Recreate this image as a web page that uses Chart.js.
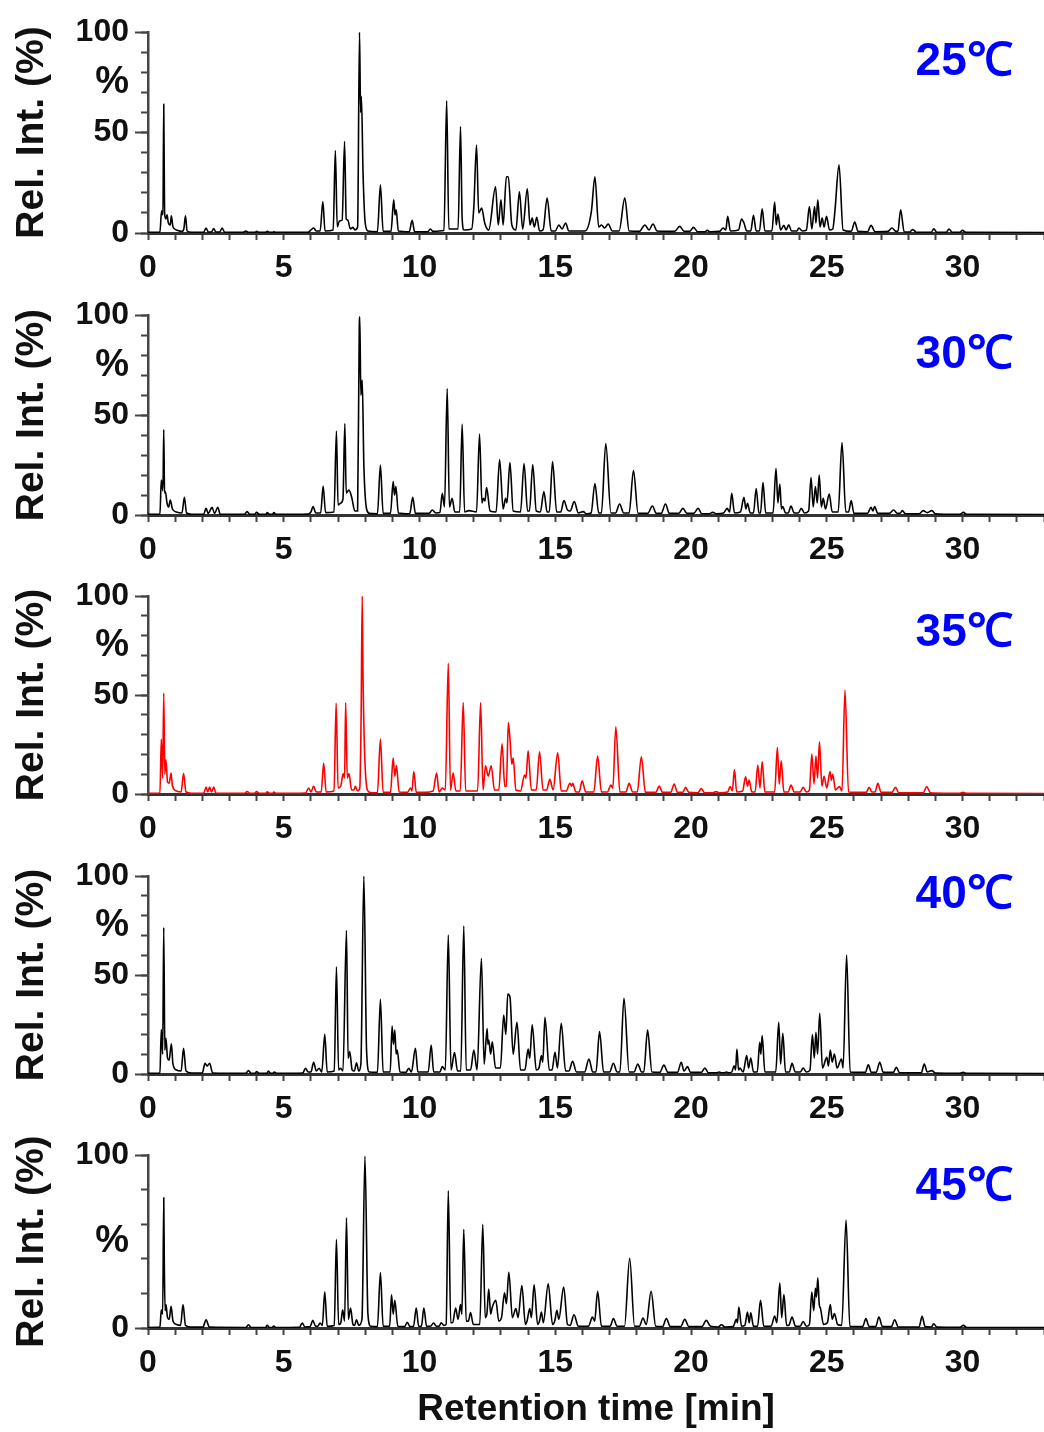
<!DOCTYPE html>
<html>
<head>
<meta charset="utf-8">
<script src="https://cdn.jsdelivr.net/npm/chart.js@4.4.1/dist/chart.umd.min.js"></script>
<style>
  body { margin: 0; background: #fff; }
  #wrap { position: relative; width: 1044px; height: 1432px; }
  #wrap canvas { position: absolute; left: 0; }
</style>
</head>
<body>
<div id="wrap">
  <canvas id="c0" width="1044" height="290" style="top:0px"></canvas>
  <canvas id="c1" width="1044" height="280" style="top:290px"></canvas>
  <canvas id="c2" width="1044" height="280" style="top:570px"></canvas>
  <canvas id="c3" width="1044" height="280" style="top:850px"></canvas>
  <canvas id="c4" width="1044" height="302" style="top:1130px"></canvas>
</div>
<script>
// chromatogram traces, [retention time (min), rel. intensity (%)]
const trace25 = [[0,0.3],[0.44,0.5],[0.5,11],[0.55,9],[0.58,64],[0.61,10],[0.66,7],[0.7,9],[0.75,5],[0.82,4],[0.86,8.6],[0.92,3],[1.05,1.5],[1.25,0.8],[1.32,2],[1.38,8.6],[1.44,1],[1.6,0.4],[2.05,0.4],[2.14,2.5],[2.22,0.5],[2.34,0.5],[2.42,2.2],[2.5,0.5],[2.64,0.5],[2.73,2.5],[2.82,0.4],[3.5,0.3],[3.6,1],[3.7,0.3],[3.95,0.3],[4.0,0.8],[4.1,0.3],[4.33,0.3],[4.39,0.8],[4.5,0.3],[4.58,0.3],[4.63,0.6],[4.7,0.3],[5.9,0.4],[6.0,1.5],[6.1,2.5],[6.2,1],[6.34,1],[6.44,15.7],[6.52,1],[6.82,1.5],[6.9,41],[6.97,3],[7.05,6],[7.15,6.5],[7.24,45.5],[7.3,7],[7.36,6.5],[7.45,2],[7.55,2.8],[7.62,1.5],[7.72,3],[7.79,100],[7.83,60],[7.86,68],[7.92,30],[8.0,5],[8.1,1],[8.45,0.6],[8.56,24],[8.66,0.8],[8.95,0.8],[9.05,16.5],[9.1,9],[9.14,11.6],[9.22,1],[9.62,0.6],[9.73,6.3],[9.82,0.6],[10.3,0.6],[10.4,2],[10.5,0.8],[10.9,1.2],[11.0,65.8],[11.08,2],[11.42,2],[11.51,53],[11.57,7.4],[11.64,1.5],[11.92,2],[12.0,13],[12.1,43.8],[12.18,10],[12.29,12.4],[12.4,5],[12.55,1.5],[12.8,23],[12.9,4],[13.0,16.5],[13.08,4],[13.2,28],[13.27,28],[13.4,4],[13.55,1.5],[13.68,20.5],[13.8,2],[13.97,22],[14.07,4],[14.15,7.4],[14.23,3],[14.32,7.8],[14.42,1],[14.55,1.5],[14.7,17.4],[14.85,1],[15.0,1],[15.13,4],[15.25,2],[15.38,5],[15.5,1],[15.9,1],[16.1,1],[16.33,10.7],[16.46,28],[16.6,3],[16.7,4],[16.82,2.5],[16.95,4.5],[17.1,1],[17.35,1],[17.56,17.4],[17.72,1],[18.1,0.8],[18.3,4],[18.45,1.5],[18.6,4.5],[18.75,1],[19.4,0.8],[19.58,3.3],[19.75,0.8],[19.95,0.8],[20.09,2.8],[20.25,0.6],[20.5,0.6],[20.6,1.3],[20.7,0.6],[21.05,0.8],[21.18,2.5],[21.28,1.5],[21.35,8.3],[21.45,1],[21.75,1.5],[21.86,7],[21.95,5],[22.05,1],[22.2,1],[22.3,8.8],[22.4,1],[22.52,1],[22.62,12],[22.72,1],[22.98,1],[23.08,15.4],[23.14,4],[23.2,9.4],[23.3,1.5],[23.42,3.8],[23.5,1.5],[23.6,4.1],[23.7,1],[23.9,1],[23.97,2.5],[24.1,1],[24.25,1.5],[24.36,13.2],[24.45,2],[24.55,13.2],[24.6,5],[24.67,16.5],[24.75,3],[24.83,7.4],[24.9,3],[24.99,8.3],[25.1,1.5],[25.22,2],[25.3,11],[25.45,33.9],[25.6,1.5],[25.9,0.8],[26.03,5.5],[26.15,0.8],[26.5,0.6],[26.63,3.8],[26.78,0.6],[27.25,0.8],[27.4,2.5],[27.55,0.8],[27.62,1],[27.72,11.6],[27.85,0.6],[28.05,0.5],[28.17,1.7],[28.3,0.4],[28.85,0.4],[28.94,2.1],[29.05,0.4],[29.4,0.4],[29.5,2],[29.62,0.4],[29.9,0.4],[30.0,1.3],[30.12,0.3],[33,0.2]];

const trace30 = [[0,0.3],[0.44,0.5],[0.49,17.5],[0.55,12],[0.58,42.8],[0.61,11],[0.64,11.7],[0.7,6],[0.76,4],[0.82,7.5],[0.9,3],[1.05,1.5],[1.25,1],[1.34,8.8],[1.42,1],[1.6,0.4],[2.05,0.4],[2.14,3.3],[2.22,0.8],[2.36,3.8],[2.45,0.8],[2.57,3.8],[2.66,0.4],[3.55,0.3],[3.65,1.7],[3.75,0.3],[3.92,0.3],[4.0,1.3],[4.1,0.3],[4.35,0.3],[4.39,1.2],[4.48,0.3],[4.6,0.3],[4.63,1.2],[4.72,0.3],[5.9,0.5],[6.0,1.5],[6.08,4.2],[6.18,1],[6.36,1],[6.45,14.5],[6.54,1.2],[6.85,1.5],[6.94,42],[7.0,5],[7.1,6],[7.18,8],[7.25,45.8],[7.3,11],[7.4,12.5],[7.5,9],[7.62,2],[7.72,2],[7.78,92.5],[7.8,99.2],[7.84,60],[7.89,67.5],[7.95,25],[8.05,3],[8.15,0.8],[8.45,0.6],[8.56,25],[8.66,0.8],[8.93,0.8],[9.03,16.7],[9.08,10],[9.13,14.2],[9.22,1],[9.64,0.6],[9.75,8.8],[9.85,0.8],[10.35,0.8],[10.47,2.5],[10.6,1],[10.75,1.2],[10.84,10.8],[10.92,4],[11.02,63.3],[11.1,4],[11.2,8.3],[11.3,1.5],[11.48,1.5],[11.57,45.5],[11.66,1.5],[11.82,2.2],[12.1,1.5],[12.21,40.5],[12.3,6],[12.35,8.3],[12.41,7],[12.47,13.7],[12.6,2],[12.82,1.5],[12.95,27.8],[13.08,3],[13.17,8.3],[13.22,6],[13.33,26.2],[13.45,2],[13.72,1.5],[13.85,25.8],[13.98,2],[14.05,2],[14.17,25.3],[14.3,2],[14.45,1.5],[14.58,11.7],[14.7,1.5],[14.78,1.5],[14.9,26.7],[15.05,1.5],[15.2,1.5],[15.32,7.2],[15.45,2.5],[15.55,2],[15.7,6.7],[15.85,1],[16.03,1.7],[16.15,0.6],[16.32,1],[16.46,15.8],[16.6,1],[16.7,1],[16.86,35.8],[17.05,1],[17.22,1],[17.37,5.5],[17.52,1],[17.72,1],[17.88,22.2],[18.05,0.8],[18.4,0.8],[18.58,4.5],[18.72,0.8],[18.9,0.8],[19.06,5.5],[19.2,0.8],[19.55,0.8],[19.7,3.3],[19.85,0.8],[20.1,0.8],[20.26,3.3],[20.4,0.6],[20.65,0.6],[20.8,1.3],[20.95,0.6],[21.2,1],[21.33,3.3],[21.42,1.5],[21.5,10.8],[21.6,1],[21.82,1.5],[21.95,8.8],[22.02,3],[22.08,5.8],[22.18,1],[22.3,1],[22.4,13.3],[22.5,1],[22.56,1],[22.65,16.2],[22.75,1],[23.02,1],[23.13,23.3],[23.2,6],[23.27,15.5],[23.33,3],[23.38,4.2],[23.48,1],[23.58,1],[23.68,4.5],[23.8,1],[23.95,1],[24.06,3.3],[24.18,1],[24.33,2],[24.42,18.8],[24.5,4],[24.58,14.2],[24.65,6],[24.72,20],[24.8,4],[24.87,8.3],[24.95,3],[25.09,10.5],[25.2,1.5],[25.42,1.5],[25.56,36.3],[25.7,1.5],[25.8,1.5],[25.9,7.2],[26.0,0.8],[26.5,0.8],[26.63,3.8],[26.7,2],[26.76,4.2],[26.88,0.8],[27.3,0.8],[27.46,2.5],[27.6,0.8],[27.7,0.8],[27.78,2.2],[27.9,0.6],[28.4,0.6],[28.55,2.2],[28.7,1.2],[28.87,2.2],[29.0,0.6],[29.3,0.4],[29.9,0.4],[30.03,1.3],[30.15,0.3],[33,0.2]];

const trace35 = [[0,0.3],[0.44,0.5],[0.49,27.7],[0.54,8],[0.58,51],[0.62,10],[0.66,17.3],[0.72,6],[0.78,5.5],[0.85,10.6],[0.9,4],[1.05,1.5],[1.22,1],[1.31,10.3],[1.4,1],[1.6,0.4],[2.05,0.4],[2.14,3.5],[2.2,1],[2.27,3.5],[2.34,1],[2.42,3.5],[2.5,0.4],[3.55,0.3],[3.65,1.3],[3.75,0.3],[3.92,0.3],[4.0,1.2],[4.1,0.3],[4.35,0.3],[4.39,1.1],[4.48,0.3],[4.6,0.3],[4.63,1],[4.72,0.3],[5.8,0.5],[5.92,3],[6.0,1],[6.1,3.9],[6.2,1],[6.38,1],[6.47,15.6],[6.56,1],[6.85,1.5],[6.93,45.9],[7.0,3],[7.1,4],[7.19,10.3],[7.24,8],[7.28,46.2],[7.34,8],[7.4,10.3],[7.5,2],[7.58,2],[7.64,3.9],[7.72,1.5],[7.8,3],[7.85,40],[7.89,100],[7.92,59],[7.98,20],[8.08,2],[8.18,0.8],[8.45,0.6],[8.56,27.7],[8.66,0.8],[8.93,0.8],[9.03,18.2],[9.09,9],[9.15,14.3],[9.25,1],[9.55,0.8],[9.67,3],[9.72,1.5],[9.79,11.4],[9.88,0.8],[10.2,0.8],[10.5,1.5],[10.63,10.6],[10.72,1],[10.84,3],[10.95,2],[11.06,66],[11.14,2],[11.24,10.6],[11.34,1.5],[11.5,1.5],[11.61,46.2],[11.7,1.5],[11.85,1.5],[12.14,1.5],[12.25,46.2],[12.34,2],[12.43,14.3],[12.53,9],[12.64,14.3],[12.76,2],[12.92,2],[13.04,25.4],[13.14,4],[13.2,3.9],[13.27,36.1],[13.33,28.2],[13.4,15],[13.45,18.2],[13.55,2],[13.72,1.5],[13.87,9.6],[13.92,8],[14.0,21.8],[14.12,2],[14.3,2],[14.42,21.3],[14.55,2],[14.68,2],[14.8,7.4],[14.92,2],[15.09,20.8],[15.22,1.5],[15.4,1.5],[15.54,5.4],[15.6,4],[15.64,5.4],[15.76,1],[15.88,1],[15.99,6.7],[16.12,1],[16.42,1],[16.56,19.2],[16.7,1],[16.92,1],[17.05,4.5],[17.12,3],[17.23,34],[17.38,1],[17.6,1],[17.72,5.4],[17.85,1],[18.02,1],[18.17,18.8],[18.32,0.8],[18.7,0.8],[18.83,4],[18.95,0.8],[19.25,0.8],[19.38,5],[19.5,0.8],[19.7,0.8],[19.8,3.4],[19.92,0.8],[20.25,0.6],[20.38,2.7],[20.5,0.6],[20.8,0.6],[20.92,1.2],[21.05,0.6],[21.35,1],[21.44,3.7],[21.52,1.5],[21.6,12.4],[21.68,1],[21.9,1.5],[22.01,8.7],[22.08,4],[22.14,7],[22.24,1],[22.36,1],[22.46,14.6],[22.54,3],[22.62,16.3],[22.72,1],[23.08,1],[23.18,23.4],[23.25,5],[23.32,16.8],[23.42,1],[23.58,1],[23.68,4.5],[23.8,1],[24.02,1],[24.13,3.4],[24.25,1],[24.36,2],[24.45,20.2],[24.53,5],[24.6,19.2],[24.66,8],[24.73,26.4],[24.82,4],[24.9,9],[25.0,3],[25.12,11.3],[25.17,7],[25.22,10],[25.32,2],[25.47,3.7],[25.56,1.5],[25.67,52.4],[25.8,1],[26.45,0.8],[26.56,3.4],[26.66,1],[26.78,1],[26.88,5.4],[27.0,0.8],[27.4,0.8],[27.53,3.4],[27.65,0.6],[28.55,0.6],[28.68,3.7],[28.82,0.6],[29.3,0.4],[29.9,0.4],[30.03,0.8],[30.15,0.3],[33,0.2]];

const trace40 = [[0,0.3],[0.44,0.5],[0.49,22.4],[0.54,10],[0.58,74],[0.62,12],[0.66,18],[0.72,8],[0.78,7],[0.86,15.2],[0.92,5],[1.05,2],[1.22,1.5],[1.31,13],[1.4,1.5],[1.6,0.5],[2.0,0.5],[2.1,5.4],[2.18,4],[2.27,5.4],[2.38,0.5],[3.6,0.3],[3.7,1.7],[3.8,0.3],[3.95,0.3],[4.0,1.3],[4.1,0.3],[4.38,0.3],[4.43,1.5],[4.52,0.3],[4.6,0.3],[4.65,1],[4.74,0.3],[5.7,0.5],[5.8,2.9],[5.9,1],[6.0,1],[6.1,5.9],[6.2,1.5],[6.3,2.9],[6.4,1],[6.51,20],[6.6,1],[6.86,1.5],[6.94,54.2],[7.02,2],[7.09,2.9],[7.18,1.5],[7.31,72.4],[7.37,8],[7.43,11.3],[7.52,2],[7.6,1.5],[7.68,5.7],[7.76,1.5],[7.84,5],[7.95,100],[8.05,12],[8.15,1],[8.45,0.8],[8.56,37.7],[8.66,1],[8.92,1],[8.99,24.2],[9.04,15],[9.09,22.2],[9.14,10],[9.18,12.1],[9.28,1],[9.5,0.8],[9.6,2.9],[9.7,1],[9.85,13],[9.94,1],[10.32,1],[10.43,14.6],[10.52,1],[10.75,1],[10.84,3.7],[10.95,2],[11.06,70.2],[11.16,2],[11.29,10.8],[11.4,1.5],[11.52,1.5],[11.63,74.7],[11.72,2],[11.88,2],[12.0,12.1],[12.12,2],[12.28,58.4],[12.38,5],[12.49,23],[12.52,15],[12.55,17.2],[12.62,10],[12.68,16.3],[12.8,3],[12.98,3],[13.1,29.8],[13.18,20],[13.25,40.4],[13.33,39],[13.45,10],[13.59,26.1],[13.72,2],[13.88,2],[14.0,12.6],[14.06,8],[14.15,24.9],[14.3,2],[14.4,3],[14.49,9.3],[14.54,6],[14.62,28.6],[14.78,2],[14.88,2],[14.99,10.9],[15.08,3],[15.22,25.6],[15.38,1.5],[15.5,1.5],[15.64,6.4],[15.78,1],[16.08,1],[16.24,7.6],[16.38,1],[16.5,1],[16.63,21.4],[16.78,1],[17.0,1],[17.14,5.4],[17.28,1],[17.38,1],[17.53,38.2],[17.72,1],[17.9,1],[18.04,5],[18.18,1],[18.26,1],[18.4,22.2],[18.56,1],[18.85,0.8],[19.0,4.5],[19.15,0.8],[19.5,0.8],[19.64,5.9],[19.74,1.5],[19.87,3.7],[19.98,0.8],[20.38,0.8],[20.51,3],[20.64,0.6],[20.95,0.6],[21.03,1],[21.15,0.6],[21.22,0.6],[21.3,1],[21.4,0.6],[21.5,1],[21.59,4.2],[21.64,2],[21.69,12.6],[21.75,2],[21.8,3],[21.92,1],[22.05,9.3],[22.12,3],[22.2,8.1],[22.3,1],[22.44,1],[22.53,16],[22.57,10],[22.62,19.4],[22.72,1],[23.12,1],[23.23,26.1],[23.3,5],[23.38,20.5],[23.48,1],[23.62,1],[23.72,5.4],[23.84,1],[24.02,1],[24.13,3],[24.25,1],[24.38,2],[24.47,19.9],[24.54,8],[24.6,21],[24.66,10],[24.74,30.6],[24.84,3],[25.0,8.4],[25.06,4],[25.13,12.1],[25.2,6],[25.28,10.1],[25.38,3],[25.54,7.6],[25.6,3],[25.73,60.1],[25.86,1],[26.42,0.8],[26.53,4.7],[26.64,0.8],[26.82,0.8],[26.95,5.9],[27.08,0.8],[27.45,0.8],[27.56,3.4],[27.68,0.6],[28.48,0.6],[28.59,5],[28.7,1],[28.87,1.7],[29.0,0.5],[29.9,0.4],[30.03,0.8],[30.15,0.3],[33,0.2]];

const trace45 = [[0,0.3],[0.44,0.5],[0.49,10.6],[0.54,8],[0.58,75.4],[0.6,39],[0.63,10],[0.66,13.5],[0.72,6],[0.78,5],[0.85,12.5],[0.92,4],[1.05,2],[1.2,1.5],[1.29,13.5],[1.38,1.5],[1.6,0.5],[2.02,0.5],[2.14,4.8],[2.26,0.5],[3.6,0.3],[3.7,1.9],[3.8,0.3],[4.33,0.3],[4.39,1.5],[4.48,0.3],[4.58,0.3],[4.63,1.2],[4.72,0.3],[5.58,0.4],[5.68,2.9],[5.78,0.6],[5.97,0.8],[6.07,4.4],[6.17,1],[6.25,1],[6.34,2.9],[6.42,1.5],[6.51,20.8],[6.6,1],[6.86,1.5],[6.94,51.3],[7.02,2],[7.1,3],[7.17,10.6],[7.24,4],[7.31,63.8],[7.38,5],[7.46,11.5],[7.55,2],[7.61,1.5],[7.68,4.8],[7.76,1.5],[7.88,5],[7.99,99.4],[8.1,8],[8.2,1],[8.45,0.8],[8.56,32.1],[8.66,1],[8.9,1],[8.97,19.2],[9.03,8],[9.09,16],[9.2,1],[9.45,0.8],[9.55,3.3],[9.65,0.8],[9.78,1],[9.88,11.5],[9.97,1],[10.07,1],[10.16,11.5],[10.26,1],[10.4,1],[10.52,2.9],[10.62,1],[10.72,1],[10.8,3],[10.9,1.5],[10.98,2],[11.06,79.4],[11.15,3],[11.22,3],[11.33,11.5],[11.42,5],[11.51,13.5],[11.56,8],[11.63,57.1],[11.72,4],[11.8,4],[11.88,9],[11.98,2],[12.22,2],[12.33,60],[12.42,6],[12.48,8],[12.55,22.5],[12.62,8],[12.68,12],[12.81,16],[12.92,4],[13.02,6],[13.13,20.4],[13.2,14],[13.29,32.3],[13.42,6],[13.55,11.2],[13.63,6],[13.77,24.6],[13.9,2],[13.96,4],[14.06,11.2],[14.12,6],[14.22,25],[14.35,2],[14.42,4],[14.49,9.2],[14.56,3],[14.74,25.6],[14.9,2],[14.98,4],[15.06,10.2],[15.13,5],[15.31,23.7],[15.45,2],[15.55,1.5],[15.69,7.7],[15.85,1],[16.22,1],[16.37,6.3],[16.45,4],[16.56,21.3],[16.7,1],[17.02,1],[17.14,5.4],[17.28,1],[17.55,1],[17.74,40.4],[17.92,1],[18.1,1],[18.23,5.8],[18.35,2],[18.53,21.3],[18.7,1],[18.95,0.8],[19.09,5.4],[19.24,0.8],[19.62,0.8],[19.77,5],[19.92,0.8],[20.4,0.8],[20.56,4.4],[20.72,1],[21.0,0.6],[21.12,1.9],[21.25,0.6],[21.55,0.8],[21.67,5],[21.71,3],[21.76,12.1],[21.86,1],[21.98,1.5],[22.08,9.2],[22.14,3],[22.2,8.8],[22.3,1],[22.45,1],[22.56,16],[22.68,1],[22.95,1],[23.08,6.9],[23.16,3],[23.27,26],[23.34,6],[23.42,19.4],[23.52,1.5],[23.6,1.5],[23.72,6.3],[23.85,1],[24.02,1],[24.13,3.8],[24.25,1],[24.36,2],[24.45,20.8],[24.52,10],[24.58,23],[24.62,18],[24.67,29],[24.72,14],[24.77,11.2],[24.88,2],[25.02,3],[25.13,13.5],[25.2,5],[25.28,8.3],[25.4,2],[25.55,1.5],[25.71,62.5],[25.85,1],[26.32,0.8],[26.44,5.4],[26.56,0.8],[26.8,0.8],[26.92,6.3],[27.05,0.8],[27.38,0.8],[27.5,4.8],[27.63,0.6],[28.4,0.6],[28.51,6.7],[28.62,0.8],[28.85,0.6],[28.94,2.5],[29.05,0.5],[29.9,0.4],[30.03,1.5],[30.15,0.3],[33,0.2]];

const temperatures = ['25℃', '30℃', '35℃', '40℃', '45℃'];
const traces = [trace25, trace30, trace35, trace40, trace45];
const xTickLabels = [0, 5, 10, 15, 20, 25, 30];
const yLabelTicks = [[0, 50, 100], [0, 50, 100], [0, 50, 100], [0, 50, 100], [0, 100]];
const yPercentTick = [75, 75, 75, 75, 50];
const yMinorStep = [10, 10, 10, 10, 20];

// layout / style per panel
const traceColors = ['#000000', '#000000', '#ff0000', '#000000', '#000000'];
const padTop = [32, 25, 26, 26, 25];
const xAxisHeight = [57, 55, 56, 56, 104];
const labelAt = [[31.85, 85], [31.85, 80], [31.85, 81], [31.85, 90], [31.85, 81.5]];

const FONT = "'Liberation Sans', Arial, sans-serif";
const INK = '#111111';
const AXIS = '#444444';

const tempLabel = {
	id: 'tempLabel',
	afterDatasetsDraw(chart, args, opts) {
		const ctx = chart.ctx;
		ctx.save();
		ctx.font = 'bold 46px ' + FONT;
		ctx.fillStyle = '#0000ff';
		ctx.textAlign = 'right';
		ctx.textBaseline = 'middle';
		ctx.fillText(opts.text, chart.scales.x.getPixelForValue(opts.at[0]), chart.scales.y.getPixelForValue(opts.at[1]));
		ctx.restore();
	}
};

traces.forEach(function(trace, i) {
	let pct = yPercentTick[i];
	let last = i === traces.length - 1;

	new Chart(document.getElementById('c' + i), {
		type: 'line',
		data: {
			datasets: [{
				data: trace.map(p => ({x: p[0], y: p[1]})),
				borderColor: traceColors[i],
				borderWidth: 1.6,
				pointRadius: 0,
				cubicInterpolationMode: 'monotone',
				fill: false
			}]
		},
		options: {
			responsive: false,
			animation: false,
			devicePixelRatio: 1,
			layout: { padding: { top: padTop[i], left: 0, right: 0, bottom: 0 } },
			plugins: {
				legend: { display: false },
				tooltip: { enabled: false },
				tempLabel: { text: temperatures[i], at: labelAt[i] }
			},
			scales: {
				x: {
					type: 'linear',
					min: 0,
					max: 33,
					afterFit: s => { s.height = xAxisHeight[i]; },
					ticks: {
						stepSize: 1,
						autoSkip: false,
						maxRotation: 0,
						padding: 0,
						color: INK,
						// tall line box keeps the labels clear of the tick marks
						font: { family: FONT, size: 32, weight: 'bold', lineHeight: 1.75 },
						callback: v => xTickLabels.includes(v) ? String(v) : ''
					},
					grid: { drawOnChartArea: false, tickLength: 7, tickColor: AXIS, tickWidth: 2 },
					border: { color: '#333333', width: 3 },
					title: {
						display: last,
						text: 'Retention time [min]',
						color: INK,
						font: { family: FONT, size: 37, weight: 'bold' },
						padding: { top: 0, bottom: 0 }
					}
				},
				y: {
					position: 'left',
					weight: 0,
					min: 0,
					max: 100,
					afterFit: s => { s.width = 0; },
					ticks: { stepSize: yMinorStep[i], display: false },
					grid: { drawOnChartArea: false, tickLength: 7, tickColor: AXIS, tickWidth: 2 },
					border: { color: AXIS, width: 2.5 }
				},
				yMajor: {
					position: 'left',
					weight: 1,
					min: 0,
					max: 100,
					afterFit: s => { s.width = 148; },
					afterBuildTicks: s => {
						s.ticks = yLabelTicks[i].concat([pct]).sort((a, b) => a - b).map(v => ({value: v}));
					},
					ticks: {
						padding: 6,
						color: INK,
						font: c => ({ family: FONT, size: (c.tick && c.tick.value === pct) ? 38 : 32, weight: 'bold' }),
						callback: v => v === pct ? '%' : String(v)
					},
					grid: {
						drawOnChartArea: false,
						tickLength: 13,
						tickWidth: 2,
						tickColor: c => (c.tick && c.tick.value === pct) ? 'rgba(0,0,0,0)' : AXIS
					},
					border: { display: false },
					title: {
						display: true,
						text: 'Rel. Int. (%)',
						color: INK,
						font: { family: FONT, size: 39, weight: 'bold' },
						padding: { top: 9, bottom: 0 }
					}
				}
			}
		},
		plugins: [tempLabel]
	});
});
</script>
</body>
</html>
